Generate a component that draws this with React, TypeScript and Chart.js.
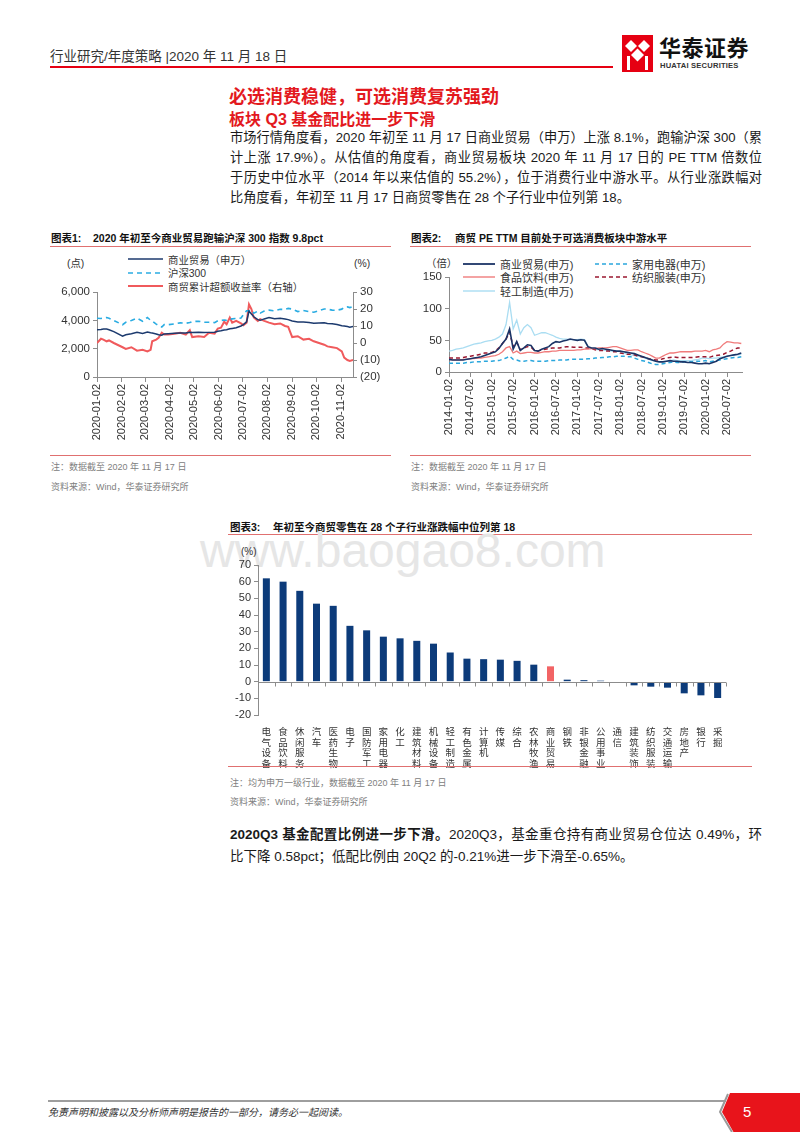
import React, { useEffect, useRef } from "react";
import { Chart, registerables } from "chart.js";

Chart.register(...registerables);

const FONT = '"Liberation Sans", Arial, "Noto Sans CJK SC", sans-serif';
Chart.defaults.font.family = FONT;
Chart.defaults.color = "#333";

const HT_RED = "#E60012";
const TITLE_RED = "#E3191E";
const RULE_RED = "#E07070";
const AXIS = "#8C8C8C";
const NAVY = "#1C3A6E";
const SKY = "#2AACE2";
const LINE_RED = "#F05A5C";

// ---------------- Chart 1 data ----------------
const c1Dates = [
  "2020-01-02", "2020-01-07", "2020-01-10", "2020-01-14", "2020-01-17", "2020-01-23",
  "2020-02-03", "2020-02-07", "2020-02-14", "2020-02-21", "2020-02-28",
  "2020-03-05", "2020-03-09", "2020-03-11", "2020-03-16", "2020-03-19", "2020-03-23", "2020-03-26", "2020-03-31",
  "2020-04-08", "2020-04-15", "2020-04-22", "2020-04-27", "2020-04-30",
  "2020-05-08", "2020-05-15", "2020-05-21", "2020-05-28",
  "2020-06-01", "2020-06-05", "2020-06-09", "2020-06-12", "2020-06-16", "2020-06-19", "2020-06-24", "2020-06-30",
  "2020-07-03", "2020-07-07", "2020-07-10", "2020-07-13", "2020-07-16", "2020-07-21", "2020-07-24", "2020-07-29",
  "2020-08-04", "2020-08-11", "2020-08-18", "2020-08-24", "2020-08-28",
  "2020-09-02", "2020-09-09", "2020-09-16", "2020-09-23", "2020-09-29",
  "2020-10-12", "2020-10-16", "2020-10-22", "2020-10-28",
  "2020-11-03", "2020-11-06", "2020-11-10", "2020-11-13", "2020-11-17",
];
const c1Retail = [
  3330, 3350, 3390, 3380, 3340, 3200,
  2880, 2980, 3060, 3150, 3080,
  3180, 3120, 3100, 3040, 2980, 2950, 3040, 3060,
  3080, 3100, 3110, 3150, 3140,
  3160, 3140, 3150, 3160,
  3230, 3260, 3320, 3330, 3400, 3430, 3480, 3600,
  3700, 3900, 4650, 4450, 4250, 4050, 4000, 4100,
  4200, 4120, 4150, 4100, 4050,
  3950, 3880, 3890, 3850, 3800,
  3830, 3780, 3760, 3700,
  3620, 3600, 3560, 3520, 3560,
];
const c1Hs300 = [
  4150, 4130, 4160, 4200, 4150, 3990,
  3690, 3860, 3990, 4150, 3940,
  4200, 4000, 3950, 3730, 3640, 3530, 3700, 3690,
  3750, 3820, 3790, 3840, 3910,
  3940, 3870, 3860, 3840,
  3970, 3990, 4020, 4000, 4080, 4100, 4130, 4160,
  4400, 4670, 4680, 4720, 4500, 4650, 4510, 4650,
  4720, 4670, 4780, 4770, 4840,
  4800, 4620, 4700, 4620, 4570,
  4800, 4790, 4720, 4710,
  4790, 4920, 4950, 4900, 4980,
];
const c1Excess = [
  0, 2.5, 2, 1, 1.5, 0,
  -2.5, -3.5, -2.5, -4.5, -4,
  -5, -4, 1, 2, 3, 6, 5, 5,
  5.5, 6, 5, 7.5, 3.5,
  4, 3.5, 6, 5.5,
  8.5, 9, 12.5, 11, 15, 12, 13, 11.5,
  10.5, 12, 22.8, 20, 15, 13, 14, 13,
  12, 11, 11.5, 10, 9.5,
  3.5, 4, 2, 2.5, 1,
  -1, -2, -2.5, -3,
  -5, -8.6, -10, -10.5, -10,
];
const c1TickLabels = [
  "2020-01-02", "2020-02-02", "2020-03-02", "2020-04-02", "2020-05-02", "2020-06-02",
  "2020-07-02", "2020-08-02", "2020-09-02", "2020-10-02", "2020-11-02",
];
const c1LeftTicks = [0, 2000, 4000, 6000];
const c1RightTicks = [-20, -10, 0, 10, 20, 30];

// ---------------- Chart 2 data (monthly, from 2014-01) ----------------
const c2Start = "2014-01";
const c2Retail = [
  20, 19, 19, 19, 19, 20, 21, 22, 23, 24, 26, 28,
  30, 32, 37, 45, 52, 68, 36, 48, 34, 38, 43, 42,
  34, 33, 36, 38, 40, 45, 48, 47, 49, 50, 52, 51,
  50, 51, 50, 40, 38, 38, 36, 37, 36, 35, 34, 33,
  33, 32, 31, 30, 29, 27, 25, 23, 21, 19, 17, 16,
  16, 17, 18, 17, 17, 16, 16, 15, 15, 14, 13, 13,
  14, 13, 15, 17, 21, 23, 25, 26, 27, 28, 30,
];
const c2Appliance = [
  14, 14, 14, 14, 14, 15, 15, 16, 16, 16, 17, 17,
  17, 18, 18, 20, 22, 25, 20, 19, 17, 17, 18, 18,
  17, 17, 17, 17, 18, 18, 18, 19, 19, 19, 20, 20,
  20, 20, 20, 21, 21, 22, 22, 23, 23, 24, 24, 25,
  25, 25, 24, 24, 22, 20, 18, 17, 15, 13, 12, 12,
  13, 14, 15, 16, 15, 15, 16, 16, 16, 17, 17, 17,
  18, 16, 17, 18, 19, 20, 21, 22, 23, 23, 24,
];
const c2Food = [
  20, 19, 19, 19, 20, 20, 21, 21, 22, 22, 23, 24,
  25, 26, 28, 32, 38, 40, 30, 33, 29, 30, 31, 31,
  30, 30, 31, 32, 32, 33, 33, 34, 34, 34, 34, 34,
  35, 35, 36, 36, 37, 37, 38, 38, 38, 39, 40, 40,
  38, 36, 34, 34, 35, 35, 32, 30, 28, 25, 22, 22,
  25, 28, 30, 30, 31, 32, 32, 32, 32, 33, 33, 33,
  34, 32, 35, 36, 38, 44, 48, 47, 46, 46, 45,
];
const c2Textile = [
  22, 22, 22, 22, 23, 24, 25, 26, 27, 28, 30, 30,
  31, 33, 38, 45, 52, 63, 40, 47, 35, 38, 40, 39,
  34, 33, 35, 36, 37, 38, 38, 38, 39, 40, 40, 39,
  39, 39, 38, 38, 37, 35, 34, 34, 33, 33, 32, 32,
  30, 29, 28, 28, 27, 25, 24, 23, 21, 20, 19, 19,
  21, 22, 23, 24, 23, 23, 23, 23, 23, 23, 24, 24,
  24, 23, 25, 26, 27, 28, 31, 33, 36, 38, 38,
];
const c2Light = [
  33, 34, 36, 37, 38, 40, 42, 44, 45, 46, 48, 49,
  50, 52, 55, 60, 75, 110, 68, 82, 60, 70, 75, 70,
  58, 60, 62, 62, 60, 58, 55, 53, 52, 52, 51, 51,
  51, 52, 51, 39, 37, 36, 35, 35, 34, 33, 33, 33,
  32, 30, 28, 27, 26, 25, 24, 22, 20, 18, 17, 16,
  16, 17, 18, 19, 18, 18, 18, 18, 18, 19, 20, 22,
  22, 21, 22, 22, 23, 24, 25, 26, 27, 27, 28,
];
const c2TickLabels = [
  "2014-01-02", "2014-07-02", "2015-01-02", "2015-07-02", "2016-01-02", "2016-07-02", "2017-01-02",
  "2017-07-02", "2018-01-02", "2018-07-02", "2019-01-02", "2019-07-02", "2020-01-02", "2020-07-02",
];
const c2YTicks = [0, 50, 100, 150];

// ---------------- Chart 3 data ----------------
const c3Categories = [
  "电气设备", "食品饮料", "休闲服务", "汽车", "医药生物", "电子", "国防军工", "家用电器", "化工", "建筑材料",
  "机械设备", "轻工制造", "有色金属", "计算机", "传媒", "综合", "农林牧渔", "商业贸易", "钢铁", "非银金融",
  "公用事业", "通信", "建筑装饰", "纺织服装", "交通运输", "房地产", "银行", "采掘",
];
const c3Returns = [
  62, 60, 54.5, 46.8, 45.5, 33.5, 30.8, 27, 26, 24.5,
  22.8, 17.5, 13.8, 13.5, 13.2, 12.5, 10.2, 9.2, 1.2, 0.9,
  0.6, -0.3, -2.2, -3, -3.6, -7, -8.2, -9.8,
];
const c3Highlight = "商业贸易";
const c3YTicks = [-20, -10, 0, 10, 20, 30, 40, 50, 60, 70];

// ---------------- helpers ----------------
const dayOf = (d) => Math.round((Date.parse(d) - Date.parse(c1Dates[0])) / 86400000);
const monthOf = (d) =>
  (Number(d.slice(0, 4)) - Number(c2Start.slice(0, 4))) * 12 + Number(d.slice(5, 7)) - Number(c2Start.slice(5, 7));

function ChartBox({ left, top, width, height, makeConfig }) {
  const ref = useRef(null);
  useEffect(() => {
    const chart = new Chart(ref.current, makeConfig());
    return () => chart.destroy();
  }, []);
  return (
    <canvas
      ref={ref}
      width={width}
      height={height}
      style={{ position: "absolute", left, top, width, height }}
    />
  );
}

function T({ x, y, size = 12, children, style = {} }) {
  const lh = Math.round(size * 1.3);
  return (
    <div
      style={{
        position: "absolute",
        left: x,
        top: y - lh / 2,
        fontSize: size,
        lineHeight: lh + "px",
        whiteSpace: "nowrap",
        ...style,
      }}
    >
      {children}
    </div>
  );
}

function LegendItem({ x, y, color, dash, lw, label, sample = 35, size = 10.4 }) {
  return (
    <div
      style={{
        position: "absolute",
        left: x,
        top: y - 8,
        height: 16,
        display: "flex",
        alignItems: "center",
        whiteSpace: "nowrap",
        fontSize: size,
        color: "#333",
      }}
    >
      <svg width={sample} height={6} style={{ marginRight: 5 }}>
        <line x1={0} y1={3} x2={sample} y2={3} stroke={color} strokeWidth={lw} strokeDasharray={dash} />
      </svg>
      {label}
    </div>
  );
}

const baseOpts = {
  responsive: false,
  animation: false,
  plugins: { legend: { display: false }, tooltip: { enabled: false } },
};

const fixedTicks = (values) => (axis) => {
  axis.ticks = values.map((v) => ({ value: v }));
};

// ---------------- configs ----------------
const config1 = () => ({
  type: "line",
  data: {
    datasets: [
      {
        label: "商业贸易（申万）",
        data: c1Dates.map((d, i) => ({ x: dayOf(d), y: c1Retail[i] })),
        borderColor: NAVY,
        borderWidth: 1.5,
        pointRadius: 0,
        yAxisID: "y",
      },
      {
        label: "沪深300",
        data: c1Dates.map((d, i) => ({ x: dayOf(d), y: c1Hs300[i] })),
        borderColor: SKY,
        borderWidth: 1.6,
        borderDash: [5, 4],
        pointRadius: 0,
        yAxisID: "y",
      },
      {
        label: "商贸累计超额收益率（右轴）",
        data: c1Dates.map((d, i) => ({ x: dayOf(d), y: c1Excess[i] })),
        borderColor: LINE_RED,
        borderWidth: 2,
        pointRadius: 0,
        yAxisID: "y1",
      },
    ],
  },
  options: {
    ...baseOpts,
    layout: { padding: { top: 42, left: 0, right: 0, bottom: 0 } },
    scales: {
      x: {
        type: "linear",
        min: 0,
        max: 320,
        afterBuildTicks: fixedTicks(c1TickLabels.map(dayOf)),
        ticks: {
          autoSkip: false,
          minRotation: 90,
          maxRotation: 90,
          padding: 2,
          font: { size: 11 },
          color: "#333",
          callback: (v) => c1TickLabels.find((l) => dayOf(l) === v) || "",
        },
        grid: { drawOnChartArea: false, tickLength: 5, color: AXIS },
        border: { color: AXIS },
        afterFit: (s) => {
          s.height = 73;
        },
      },
      y: {
        position: "left",
        min: 0,
        max: 6000,
        afterBuildTicks: fixedTicks(c1LeftTicks),
        ticks: { font: { size: 11.5 }, color: "#333", callback: (v) => Number(v).toLocaleString("en-US") },
        grid: { drawOnChartArea: false, tickLength: 4, color: AXIS },
        border: { color: AXIS },
        afterFit: (s) => {
          s.width = 57;
        },
      },
      y1: {
        position: "right",
        min: -20,
        max: 30,
        afterBuildTicks: fixedTicks(c1RightTicks),
        ticks: { font: { size: 11.5 }, color: "#333", callback: (v) => (v < 0 ? `(${-v})` : String(v)) },
        grid: { drawOnChartArea: false, tickLength: 4, color: AXIS },
        border: { color: AXIS },
        afterFit: (s) => {
          s.width = 47;
        },
      },
    },
  },
});

const c2Series = [
  { label: "商业贸易(申万)", values: c2Retail, color: "#1B3466", width: 1.6, dash: [] },
  { label: "家用电器(申万)", values: c2Appliance, color: "#2AA7DD", width: 1.5, dash: [4, 3] },
  { label: "食品饮料(申万)", values: c2Food, color: "#F07B7B", width: 1.3, dash: [] },
  { label: "纺织服装(申万)", values: c2Textile, color: "#9A1830", width: 1.5, dash: [4, 3] },
  { label: "轻工制造(申万)", values: c2Light, color: "#AADDF2", width: 1.3, dash: [] },
];

const config2 = () => ({
  type: "line",
  data: {
    datasets: c2Series.map((s) => ({
      label: s.label,
      data: s.values.map((v, i) => ({ x: i, y: v })),
      borderColor: s.color,
      borderWidth: s.width,
      borderDash: s.dash,
      pointRadius: 0,
    })),
  },
  options: {
    ...baseOpts,
    layout: { padding: { top: 27, left: 0, right: 18, bottom: 0 } },
    scales: {
      x: {
        type: "linear",
        min: 0,
        max: 82.2,
        afterBuildTicks: fixedTicks(c2TickLabels.map(monthOf)),
        ticks: {
          autoSkip: false,
          minRotation: 90,
          maxRotation: 90,
          padding: 2,
          font: { size: 11 },
          color: "#333",
          callback: (v) => c2TickLabels.find((l) => monthOf(l) === v) || "",
        },
        grid: { drawOnChartArea: false, tickLength: 5, color: AXIS },
        border: { color: AXIS },
        afterFit: (s) => {
          s.height = 78;
        },
      },
      y: {
        position: "left",
        min: 0,
        max: 150,
        afterBuildTicks: fixedTicks(c2YTicks),
        ticks: { font: { size: 11.5 }, color: "#333" },
        grid: { drawOnChartArea: false, tickLength: 4, color: AXIS },
        border: { color: AXIS },
        afterFit: (s) => {
          s.width = 49;
        },
      },
    },
  },
});

const zeroLinePlugin = {
  id: "zeroLine",
  afterDatasetsDraw(chart) {
    const { ctx, chartArea, scales } = chart;
    const y0 = Math.round(scales.y.getPixelForValue(0)) + 0.5;
    const n = scales.x.ticks.length;
    const w = (chartArea.right - chartArea.left) / n;
    ctx.save();
    ctx.strokeStyle = AXIS;
    ctx.lineWidth = 1;
    ctx.beginPath();
    ctx.moveTo(chartArea.left, y0);
    ctx.lineTo(chartArea.right, y0);
    for (let i = 1; i <= n; i++) {
      const x = Math.round(chartArea.left + i * w) + 0.5;
      ctx.moveTo(x, y0);
      ctx.lineTo(x, y0 + 4);
    }
    ctx.stroke();
    ctx.restore();
  },
};

const config3 = () => ({
  type: "bar",
  data: {
    labels: c3Categories.map((c) => c.split("")),
    datasets: [
      {
        data: c3Returns,
        backgroundColor: c3Categories.map((c) => (c === c3Highlight ? "#F26465" : "#0C3B7A")),
        barPercentage: 0.42,
        categoryPercentage: 1,
      },
    ],
  },
  options: {
    ...baseOpts,
    layout: { padding: { top: 25, left: 0, right: 14, bottom: 0 } },
    scales: {
      x: {
        ticks: {
          autoSkip: false,
          minRotation: 0,
          maxRotation: 0,
          padding: 4,
          font: { size: 9.5, lineHeight: 1.12 },
          color: "#333",
        },
        grid: { display: false },
        border: { display: false },
        afterFit: (s) => {
          s.height = 55;
        },
      },
      y: {
        min: -20,
        max: 70,
        afterBuildTicks: fixedTicks(c3YTicks),
        ticks: { font: { size: 11 }, color: "#333" },
        grid: { drawOnChartArea: false, tickLength: 4, color: AXIS },
        border: { color: AXIS },
        afterFit: (s) => {
          s.width = 58;
        },
      },
    },
  },
  plugins: [zeroLinePlugin],
});

// ---------------- page ----------------
const Rule = ({ x1, x2, y, color = RULE_RED, h = 1 }) => (
  <div style={{ position: "absolute", left: x1, top: y, width: x2 - x1, height: h, background: color }} />
);

const paraLine = (extra = {}) => ({
  position: "absolute",
  left: 230,
  width: 532,
  fontSize: 13.2,
  lineHeight: "20px",
  color: "#1a1a1a",
  textAlign: "justify",
  textAlignLast: "justify",
  ...extra,
});

export default function App() {
  return (
    <div
      style={{
        position: "absolute",
        left: 0,
        top: 0,
        width: 800,
        height: 1132,
        background: "#fff",
        fontFamily: FONT,
        color: "#222",
        overflow: "hidden",
      }}
    >
      {/* header */}
      <T x={50} y={57} size={13.5} style={{ color: "#333" }}>
        行业研究/年度策略 |2020 年 11 月 18 日
      </T>
      <Rule x1={50} x2={613} y={66} color={HT_RED} h={2} />
      <svg width={31} height={37} style={{ position: "absolute", left: 622, top: 35 }}>
        <rect x={0} y={0} width={31} height={37} fill={HT_RED} />
        <polygon points="3,11 9,5 15,11 9,17" fill="#fff" />
        <polygon points="16,11 22,5 28,11 22,17" fill="#fff" />
        <polygon points="9,20 15.5,13.5 22,20 15.5,26.5" fill="#fff" />
        <rect x={5} y={21} width={3} height={14} fill="#fff" />
        <rect x={23} y={21} width={3} height={14} fill="#fff" />
      </svg>
      <T x={659} y={48} size={22} style={{ fontWeight: 700, color: "#111", letterSpacing: 0.5 }}>
        华泰证券
      </T>
      <T x={660} y={66} size={7.6} style={{ fontWeight: 700, color: "#333", letterSpacing: 0.2 }}>
        HUATAI SECURITIES
      </T>

      {/* section titles */}
      <T x={229} y={97} size={18} style={{ fontWeight: 700, color: TITLE_RED }}>
        必选消费稳健，可选消费复苏强劲
      </T>
      <T x={229} y={119} size={16} style={{ fontWeight: 700, color: TITLE_RED }}>
        板块 Q3 基金配比进一步下滑
      </T>
      <div style={paraLine({ top: 128 })}>市场行情角度看，2020 年初至 11 月 17 日商业贸易（申万）上涨 8.1%，跑输沪深 300（累</div>
      <div style={paraLine({ top: 148 })}>计上涨 17.9%）。从估值的角度看，商业贸易板块 2020 年 11 月 17 日的 PE TTM 倍数位</div>
      <div style={paraLine({ top: 168 })}>于历史中位水平（2014 年以来估值的 55.2%），位于消费行业中游水平。从行业涨跌幅对</div>
      <div style={paraLine({ top: 188, textAlignLast: "left" })}>比角度看，年初至 11 月 17 日商贸零售在 28 个子行业中位列第 18。</div>

      {/* chart 1 */}
      <T x={51} y={238} size={10.5} style={{ fontWeight: 700, color: "#111" }}>图表1:</T>
      <T x={93} y={238} size={10.5} style={{ fontWeight: 700, color: "#111" }}>
        2020 年初至今商业贸易跑输沪深 300 指数 9.8pct
      </T>
      <Rule x1={50} x2={391} y={246} />
      <T x={67} y={264} size={10.4} style={{ color: "#333" }}>(点)</T>
      <T x={354} y={264} size={10.4} style={{ color: "#333" }}>(%)</T>
      <LegendItem x={128} y={259} color={NAVY} lw={1.6} label="商业贸易（申万）" />
      <LegendItem x={128} y={272.5} color={SKY} lw={1.6} dash="5 4" label="沪深300" />
      <LegendItem x={128} y={286} color={LINE_RED} lw={2.2} label="商贸累计超额收益率（右轴）" />
      <ChartBox left={40} top={250} width={360} height={200} makeConfig={config1} />
      <Rule x1={50} x2={391} y={455} />
      <T x={51} y={467} size={9} style={{ color: "#808080" }}>注：数据截至 2020 年 11 月 17 日</T>
      <T x={51} y={487} size={9} style={{ color: "#808080" }}>资料来源：Wind，华泰证券研究所</T>

      {/* chart 2 */}
      <T x={411} y={238} size={10.5} style={{ fontWeight: 700, color: "#111" }}>图表2:</T>
      <T x={455} y={238} size={10.5} style={{ fontWeight: 700, color: "#111" }}>
        商贸 PE TTM 目前处于可选消费板块中游水平
      </T>
      <Rule x1={410} x2={751} y={246} />
      <T x={426} y={264} size={10.4} style={{ color: "#333" }}>（倍）</T>
      <LegendItem x={463} y={264} color={c2Series[0].color} lw={1.8} label={c2Series[0].label} size={11} sample={32} />
      <LegendItem x={595} y={264} color={c2Series[1].color} lw={1.6} dash="4 3" label={c2Series[1].label} size={11} sample={32} />
      <LegendItem x={463} y={277} color={c2Series[2].color} lw={1.4} label={c2Series[2].label} size={11} sample={32} />
      <LegendItem x={595} y={277} color={c2Series[3].color} lw={1.6} dash="4 3" label={c2Series[3].label} size={11} sample={32} />
      <LegendItem x={463} y={291} color={c2Series[4].color} lw={1.4} label={c2Series[4].label} size={11} sample={32} />
      <ChartBox left={400} top={250} width={360} height={200} makeConfig={config2} />
      <Rule x1={410} x2={751} y={455} />
      <T x={411} y={467} size={9} style={{ color: "#808080" }}>注：数据截至 2020 年 11 月 17 日</T>
      <T x={411} y={487} size={9} style={{ color: "#808080" }}>资料来源：Wind，华泰证券研究所</T>

      {/* chart 3 */}
      <T x={230} y={527} size={10.5} style={{ fontWeight: 700, color: "#111" }}>图表3:</T>
      <T x={273} y={527} size={10.5} style={{ fontWeight: 700, color: "#111" }}>
        年初至今商贸零售在 28 个子行业涨跌幅中位列第 18
      </T>
      <Rule x1={228} x2={752} y={534} />
      <T x={200} y={551} size={48} style={{ color: "#E6E6E6", fontFamily: '"Liberation Sans", Arial, sans-serif' }}>
        www.baogao8.com
      </T>
      <T x={241} y={551} size={10} style={{ color: "#333" }}>(%)</T>
      <ChartBox left={200} top={540} width={540} height={230} makeConfig={config3} />
      <Rule x1={228} x2={752} y={766} />
      <T x={230} y={783} size={9} style={{ color: "#808080" }}>注：均为申万一级行业，数据截至 2020 年 11 月 17 日</T>
      <T x={230} y={802} size={9} style={{ color: "#808080" }}>资料来源：Wind，华泰证券研究所</T>

      {/* bottom paragraph */}
      <div style={paraLine({ top: 825, fontSize: 13.5 })}>
        <b>2020Q3 基金配置比例进一步下滑。</b>2020Q3，基金重仓持有商业贸易仓位达 0.49%，环
      </div>
      <div style={paraLine({ top: 847, fontSize: 13.5, textAlignLast: "left" })}>
        比下降 0.58pct；低配比例由 20Q2 的-0.21%进一步下滑至-0.65%。
      </div>

      {/* footer */}
      <Rule x1={48} x2={726} y={1100} color="#9E9E9E" h={2} />
      <T x={48} y={1112} size={10} style={{ color: "#333", fontStyle: "italic" }}>
        免责声明和披露以及分析师声明是报告的一部分，请务必一起阅读。
      </T>
      <svg width={84} height={40} style={{ position: "absolute", left: 716, top: 1093 }}>
        <polygon points="14,0 84,0 84,40 18,40 6,19" fill="#E8141B" />
        <polyline points="12,1 4,19 16,39" fill="none" stroke="#9A9A9A" strokeWidth={2} />
      </svg>
      <T x={743} y={1112} size={15} style={{ color: "#fff" }}>5</T>
    </div>
  );
}
